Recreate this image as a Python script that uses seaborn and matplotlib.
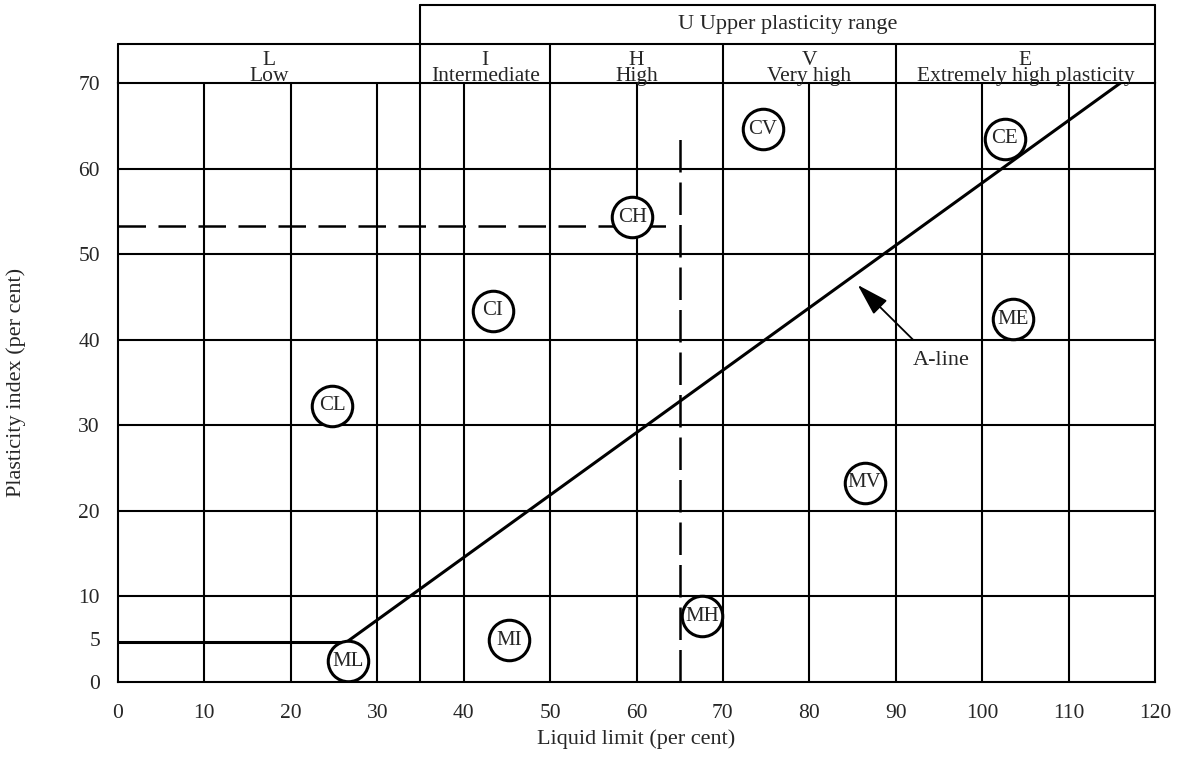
import matplotlib
matplotlib.use("Agg")
import matplotlib.pyplot as plt
import seaborn as sns
import pandas as pd

# zones of liquid limit (header row)
zone_codes = ["L", "I", "H", "V", "E"]
zone_names = ["Low", "Intermediate", "High", "Very high", "Extremely high plasticity"]
zone_edges = [0, 35, 50, 70, 90, 120]
upper_label = "U Upper plasticity range"

# soil symbols on the chart
symbols = ["CL", "CI", "CH", "CV", "CE", "ML", "MI", "MH", "MV", "ME"]
sym_ll = [24.8, 43.4, 59.5, 74.6, 102.6, 26.6, 45.3, 67.6, 86.4, 103.6]
sym_pi = [32.3, 43.4, 54.3, 64.6, 63.5, 2.4, 4.9, 7.7, 23.3, 42.4]

# A-line (PI = 0.73 (LL - 20)) and its horizontal part
aline_ll = [26.5, 116.0]
aline_pi = [4.7, 70.0]
base_ll = [0, 26.5]
base_pi = [4.7, 4.7]

# example soil point (dashed guides)
ex_ll = 65
ex_pi = 53.3
ex_top = 63.7

x_ticks = [0, 10, 20, 30, 40, 50, 60, 70, 80, 90, 100, 110, 120]
y_ticks = [0, 5, 10, 20, 30, 40, 50, 60, 70]
x_grid = [10, 20, 30, 35, 40, 50, 60, 70, 80, 90, 100, 110]
y_grid = [10, 20, 30, 40, 50, 60]

sns.set_theme(style="white")
plt.rcParams["font.family"] = ["Liberation Serif", "DejaVu Serif"]

fig = plt.figure(figsize=(11.82, 7.58), dpi=100)
ax = fig.add_axes([118 / 1182, 76 / 758, 1037 / 1182, 599 / 758])
ax.set_xlim(0, 120)
ax.set_ylim(0, 70)

lw = 1.5
for x in x_grid:
    ax.axvline(x, color="black", lw=lw, zorder=1)
for y in y_grid:
    ax.axhline(y, color="black", lw=lw, zorder=1)
for s in ax.spines.values():
    s.set_linewidth(lw)
    s.set_color("black")

# header rows above the plot
hdr_top = 74.55
box_top = 79.1
ax.plot([0, 120], [hdr_top, hdr_top], color="black", lw=lw, clip_on=False)
ax.plot([35, 120], [box_top, box_top], color="black", lw=lw, clip_on=False)
for x in zone_edges:
    top = box_top if x in (35, 120) else hdr_top
    ax.plot([x, x], [70, top], color="black", lw=lw, clip_on=False)
for i in range(len(zone_codes)):
    xc = (zone_edges[i] + zone_edges[i + 1]) / 2
    ax.text(xc, 69.65, zone_codes[i] + "\n" + zone_names[i], ha="center", va="bottom",
            fontsize=15.5, linespacing=0.82)
ax.text((35 + 120) / 2, 76.85, upper_label, ha="center", va="center", fontsize=16)

# A-line
line_df = pd.DataFrame({"ll": base_ll + aline_ll, "pi": base_pi + aline_pi,
                        "part": ["base", "base", "a", "a"]})
sns.lineplot(data=line_df, x="ll", y="pi", units="part", estimator=None,
             color="black", lw=2.2, ax=ax, zorder=3)

# dashed guides
ax.plot([0, ex_ll - 1.5], [ex_pi, ex_pi], color="black", lw=1.8, ls=(0, (11, 5)), zorder=3)
ax.plot([ex_ll, ex_ll], [0, ex_top], color="black", lw=1.8, ls=(0, (13, 4)), zorder=3)

# symbols
sym_df = pd.DataFrame({"ll": sym_ll, "pi": sym_pi, "sym": symbols})
sns.scatterplot(data=sym_df, x="ll", y="pi", s=850, facecolor="white",
                edgecolor="black", linewidth=2.2, ax=ax, zorder=4)
for s, x, y in zip(symbols, sym_ll, sym_pi):
    ax.text(x, y, s, ha="center", va="center", fontsize=15, zorder=5)

ax.annotate("", xy=(85.6, 46.4), xytext=(92.0, 40.0),
            arrowprops=dict(arrowstyle="-|>,head_length=1.0,head_width=0.3",
                            color="black", lw=1.3, mutation_scale=20,
                            shrinkA=0, shrinkB=0))
ax.text(95.3, 37.6, "A-line", ha="center", va="center", fontsize=16)

ax.set_xticks(x_ticks)
ax.set_yticks(y_ticks)
ax.tick_params(axis="both", length=0, labelsize=15.5)
ax.tick_params(axis="x", pad=16)
ax.tick_params(axis="y", pad=13)
ax.set_xlabel("Liquid limit (per cent)", fontsize=16, labelpad=4)
ax.set_ylabel("Plasticity index (per cent)", fontsize=16)
ax.yaxis.set_label_coords(-0.089, 0.5)

fig.savefig("out.png", dpi=100)
